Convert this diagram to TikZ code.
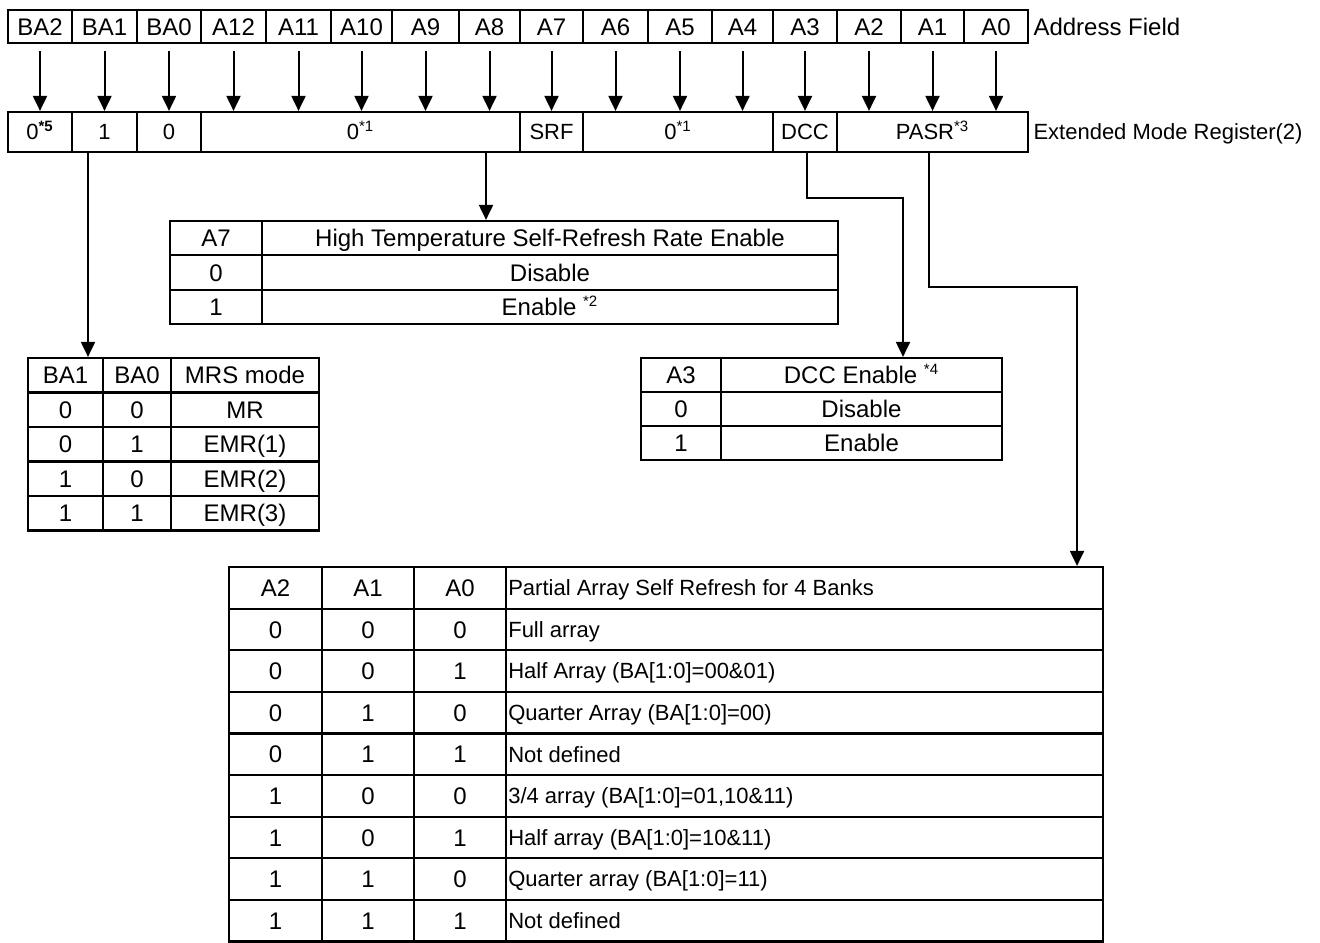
\documentclass[tikz,border=0pt]{standalone}
\usepackage{fontspec}
\setmainfont{Liberation Sans}
\usetikzlibrary{arrows.meta,positioning,calc}

\newcommand{\regnote}[1]{\textsuperscript{\fontsize{7.5}{8}\selectfont #1}}

\tikzset{
    capbox/.style={text height=8.6pt, text depth=0pt},
    cell/.style={draw, line width=1.1pt, inner sep=0pt, capbox},
    link/.style={line width=1pt, -{Triangle[length=7.5pt,width=7pt]}},
    smalltext/.style={font=\fontsize{11}{13}\selectfont, text height=7.9pt, text depth=0pt}
}

\begin{document}
\begin{tikzpicture}[x=0.5pt, y=0.5pt, font=\fontsize{12}{14}\selectfont]
    \useasboundingbox (0,0) rectangle (1320,-942);

    % Address field
    \foreach \xa/\xb/\lab [count=\i] in {8/72/BA2, 72/137/BA1, 137/201/BA0, 201/266/A12,
        266/331/A11, 331/392/A10, 392/459/A9, 459/520/A8, 520/583/A7, 583/648/A6,
        648/712/A5, 712/773/A4, 773/837/A3, 837/901/A2, 901/964/A1, 964/1028/A0} {
        \node[cell, minimum width={(\xb-\xa)*0.5pt}, minimum height=16.5pt] (addr\i) at ({(\xa+\xb)/2},-26.5) {\lab};
    }
    \node[right, capbox, inner sep=2pt] (addrlbl) at (addr16.east) {Address Field};

    % Extended mode register (2)
    \foreach \xa/\xb/\lab [count=\i] in {8/72/{0\regnote{\textbf{*5}}}, 72/137/1, 137/201/0,
        201/520/{0\regnote{*1}}, 520/583/SRF, 583/773/{0\regnote{*1}}, 773/837/DCC,
        837/1028/{PASR\regnote{*3}}} {
        \node[cell, smalltext, minimum width={(\xb-\xa)*0.5pt}, minimum height=20pt] (emr\i) at ({(\xa+\xb)/2},-132) {\lab};
    }
    \node[right, smalltext, inner sep=2pt] (emrlbl) at (emr8.east) {Extended Mode Register(2)};

    % Bit arrows
    \foreach \i in {1,...,16} {
        \draw[link] ([yshift=-3.5pt]addr\i.south) -- (addr\i.south |- emr1.north);
    }

    % MRS mode table
    \foreach \ca/\cb/\cc [count=\k] in {BA1/BA0/MRS mode, 0/0/MR, 0/1/EMR(1), 1/0/EMR(2), 1/1/EMR(3)} {
        \pgfmathsetmacro\yc{-(358+34.5*\k-17.25)}
        \node[cell, minimum width=37.5pt, minimum height=17.25pt] (mrs-\k-1) at (65.5,\yc) {\ca};
        \node[cell, minimum width=34pt, minimum height=17.25pt] (mrs-\k-2) at (137,\yc) {\cb};
        \node[cell, minimum width=74pt, minimum height=17.25pt] (mrs-\k-3) at (245,\yc) {\cc};
    }

    % Self-refresh rate table
    \foreach \ca/\cb [count=\k] in {A7/High Temperature Self-Refresh Rate Enable, 0/Disable,
        1/{Enable \regnote{*2}}} {
        \pgfmathsetmacro\yc{-(221+34.33*\k-17.17)}
        \node[cell, minimum width=46pt, minimum height=17.17pt] (srf-\k-1) at (216,\yc) {\ca};
        \node[cell, minimum width=288pt, minimum height=17.17pt] (srf-\k-2) at (550,\yc) {\cb};
    }

    % DCC table
    \foreach \ca/\cb [count=\k] in {A3/{DCC Enable \regnote{*4}}, 0/Disable, 1/Enable} {
        \pgfmathsetmacro\yc{-(358+34*\k-17)}
        \node[cell, minimum width=40pt, minimum height=17pt] (dcc-\k-1) at (681,\yc) {\ca};
        \node[cell, minimum width=140.5pt, minimum height=17pt] (dcc-\k-2) at (861.5,\yc) {\cb};
    }

    % PASR table
    \foreach \ca/\cb/\cc/\cd [count=\k] in {A2/A1/A0/{Partial Array Self Refresh for 4 Banks},
        0/0/0/{Full array}, 0/0/1/{Half Array (BA[1:0]=00\&01)}, 0/1/0/{Quarter Array (BA[1:0]=00)},
        0/1/1/{Not defined}, 1/0/0/{3/4 array (BA[1:0]=01,10\&11)}, 1/0/1/{Half array (BA[1:0]=10\&11)},
        1/1/0/{Quarter array (BA[1:0]=11)}, 1/1/1/{Not defined}} {
        \pgfmathsetmacro\yc{-(567+41.6*\k-20.8)}
        \node[cell, minimum width=46.5pt, minimum height=20.8pt] (pasr-\k-1) at (275.5,\yc) {\ca};
        \node[cell, minimum width=46pt, minimum height=20.8pt] (pasr-\k-2) at (368,\yc) {\cb};
        \node[cell, minimum width=46pt, minimum height=20.8pt] (pasr-\k-3) at (460,\yc) {\cc};
        \node[cell, minimum width=298.5pt, minimum height=20.8pt] (pasr-\k-4) at (804.5,\yc) {};
        \node[smalltext, anchor=west, inner sep=0pt] (pasrtxt-\k) at ([xshift=1.5pt]pasr-\k-4.west) {\cd};
    }

    % Connectors to the tables
    \coordinate (badrop) at (88,0);
    \coordinate (srfdrop) at (486,0);
    \coordinate (dccdrop) at (807,0);
    \coordinate (dccbend) at (903,-198);
    \coordinate (pasrdrop) at (929,0);
    \coordinate (pasrbend) at (1077,-287);

    \draw[link] (emr2.south -| badrop) -- (badrop |- mrs-1-1.north);
    \draw[link] (emr4.south -| srfdrop) -- (srfdrop |- srf-1-2.north);
    \draw[link] (emr7.south -| dccdrop) |- (dccbend) -- (dccbend |- dcc-1-2.north);
    \draw[link] (emr8.south -| pasrdrop) |- (pasrbend) -- (pasrbend |- pasr-1-4.north);
\end{tikzpicture}
\end{document}
